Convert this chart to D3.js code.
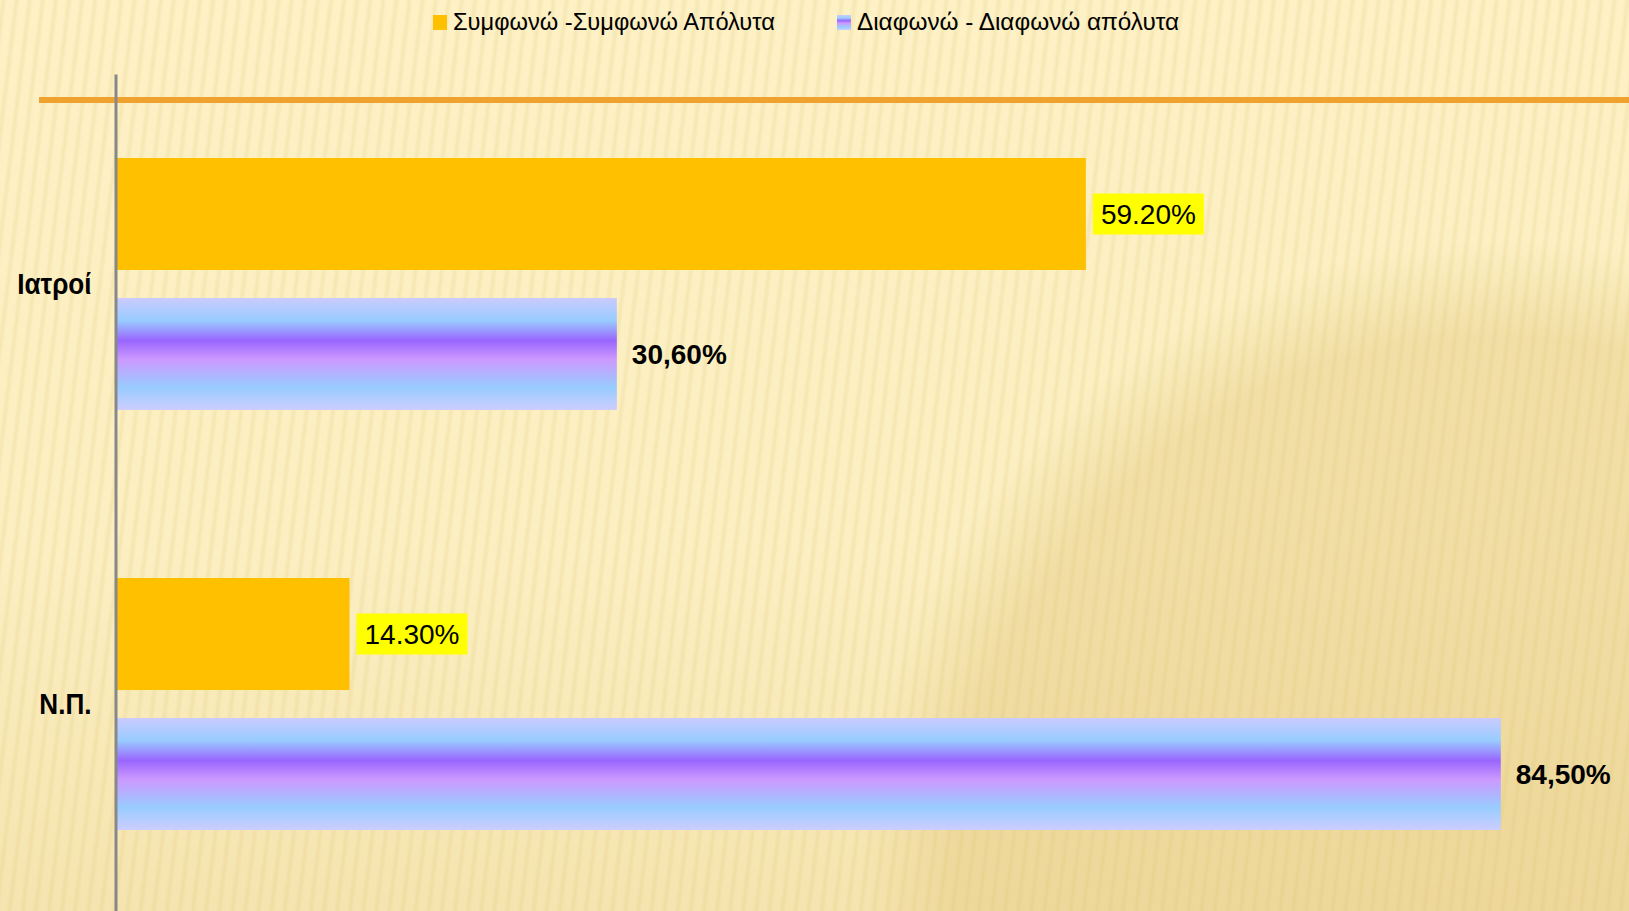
<!DOCTYPE html>
<html lang="el">
    <head>
        <meta charset="utf-8">
        <title>Ιατροί - Ν.Π.</title>
        <script type="text/javascript" src="https://d3js.org/d3.v7.min.js"></script>
        <style type="text/css">
          body{
            margin: 0;
            overflow: hidden;
          }
          svg{
            display: block;
            font-family: "Liberation Sans", Arial, sans-serif;
          }
          .catlabels text{
            font-size: 29px;
            font-weight: 700;
            fill: #000;
          }
          .legend text{
            font-size: 23px;
            fill: #000;
          }
          .values{
            font-size: 28px;
            fill: #000;
          }
        </style>
    </head>
    <body>
      <div id="chart"></div>
        <script type="text/javascript">

            const w = 1629;
            const h = 911;

            // data
            const categories = ["Ιατροί", "Ν.Π."];
            const seriesNames = ["Συμφωνώ -Συμφωνώ Απόλυτα", "Διαφωνώ - Διαφωνώ απόλυτα"];
            const agreeValues = [59.2, 14.3];
            const disagreeValues = [30.6, 84.5];
            const agreeLabels = ["59.20%", "14.30%"];
            const disagreeLabels = ["30,60%", "84,50%"];

            const rows = [];
            categories.forEach((c, i) => {
              rows.push({cat: c, series: seriesNames[0], value: agreeValues[i], label: agreeLabels[i], s: 0});
              rows.push({cat: c, series: seriesNames[1], value: disagreeValues[i], label: disagreeLabels[i], s: 1});
            });

            const svg = d3.select("#chart")
                          .append("svg")
                          .attr("width", w)
                          .attr("height", h);

            const defs = svg.append("defs");

            //purple "tube" gradient of the disagree bars
            const grad = defs.append("linearGradient")
                             .attr("id", "purp")
                             .attr("x1", 0).attr("y1", 0)
                             .attr("x2", 0).attr("y2", 1);
            [[0, "#cbcbff"], [0.2, "#99ccff"], [0.38, "#9966ff"], [0.55, "#cc99ff"], [0.8, "#99ccff"], [1, "#cdcdff"]]
              .forEach(d => grad.append("stop").attr("offset", d[0]).attr("stop-color", d[1]));

            //background: pale paper with thin slanted stripes and a darker disc bottom right
            const stripe = defs.append("pattern")
                               .attr("id", "stripes")
                               .attr("width", 13)
                               .attr("height", 40)
                               .attr("patternUnits", "userSpaceOnUse")
                               .attr("patternTransform", "rotate(7)");
            const sg = defs.append("linearGradient").attr("id", "stripeGrad");
            [[0, "#d9bd6a", 0], [0.5, "#d9bd6a", 0.2], [1, "#d9bd6a", 0]]
              .forEach(d => sg.append("stop").attr("offset", d[0]).attr("stop-color", d[1]).attr("stop-opacity", d[2]));
            stripe.append("rect").attr("width", 7).attr("height", 40).attr("fill", "url(#stripeGrad)");

            const disc = defs.append("radialGradient").attr("id", "disc");
            [[0, 0.42], [0.85, 0.4], [1, 0.0]]
              .forEach(d => disc.append("stop").attr("offset", d[0]).attr("stop-color", "#e2c67c").attr("stop-opacity", d[1]));

            const shade = defs.append("linearGradient")
                              .attr("id", "shade")
                              .attr("x1", 0).attr("y1", 0)
                              .attr("x2", 0).attr("y2", 1);
            [[0, 0], [0.6, 0.05], [1, 0.3]]
              .forEach(d => shade.append("stop").attr("offset", d[0]).attr("stop-color", "#e2c67c").attr("stop-opacity", d[1]));

            const bg = svg.append("g");
            bg.append("rect").attr("width", w).attr("height", h).attr("fill", "#fdf1c5");
            bg.append("rect").attr("width", w).attr("height", h).attr("fill", "url(#shade)");
            bg.append("circle")
              .attr("cx", 1500).attr("cy", 880).attr("r", 640)
              .attr("fill", "url(#disc)");
            bg.append("rect").attr("width", w).attr("height", h).attr("fill", "url(#stripes)");

            //orange rule of the slide
            svg.append("line")
               .attr("x1", 39).attr("x2", w)
               .attr("y1", 100).attr("y2", 100)
               .attr("stroke", "#f0a22e")
               .attr("stroke-width", 6);

            //scales
            const x = d3.scaleLinear()
                        .domain([0, 100])
                        .range([115, 1755]);

            const y = d3.scaleBand()
                        .domain(categories)
                        .range([74, 914])
                        .paddingInner(0.4)
                        .paddingOuter(0.2);

            const ySub = d3.scaleBand()
                           .domain(seriesNames)
                           .range([0, y.bandwidth()])
                           .paddingInner(0.2);

            const fills = ["#ffc000", "url(#purp)"];

            //bars
            svg.selectAll(".bar")
               .data(rows)
               .enter()
               .append("rect")
               .attr("class", "bar")
               .attr("x", x(0))
               .attr("y", d => y(d.cat) + ySub(d.series))
               .attr("width", d => x(d.value) - x(0))
               .attr("height", ySub.bandwidth())
               .attr("fill", d => fills[d.s]);

            //value labels
            const lab = svg.selectAll(".vlab")
                           .data(rows)
                           .enter()
                           .append("g")
                           .attr("class", "vlab")
                           .attr("transform", d => `translate(${x(d.value) + 15},${y(d.cat) + ySub(d.series) + ySub.bandwidth() / 2})`);

            lab.append("text")
               .attr("class", "values")
               .attr("dy", "0.36em")
               .style("font-weight", d => d.s == 1 ? 700 : 400)
               .text(d => d.label);

            lab.filter(d => d.s == 0).each(function(){
              const g = d3.select(this);
              const b = g.select("text").node().getBBox();
              g.insert("rect", "text")
               .attr("x", -8)
               .attr("y", -20.5)
               .attr("width", b.width + 16)
               .attr("height", 41)
               .attr("fill", "#ffff00");
            });

            //category axis
            const yAxis = svg.append("g")
                             .attr("class", "catlabels")
                             .attr("transform", `translate(${x(0) + 0.5},0)`)
                             .call(d3.axisLeft(y).tickSize(0).tickSizeOuter(0).tickPadding(24));
            yAxis.select(".domain")
                 .attr("stroke", "#888")
                 .attr("stroke-width", 3);
            yAxis.selectAll("text")
                 .attr("font-family", null)
                 .attr("font-size", null)
                 .attr("dy", "0.34em")
                 .each(function(){
                   const t = d3.select(this);
                   const len = this.getComputedTextLength();
                   t.attr("textLength", len * 0.9).attr("lengthAdjust", "spacingAndGlyphs");
                 });

            //legend
            const legendX = [433, 837];
            const legend = svg.append("g")
                              .attr("class", "legend")
                              .selectAll("g")
                              .data(seriesNames)
                              .enter()
                              .append("g")
                              .attr("transform", (d, i) => `translate(${legendX[i]},15)`);
            legend.append("rect")
                  .attr("width", 14)
                  .attr("height", 15)
                  .attr("fill", (d, i) => fills[i]);
            legend.append("text")
                  .attr("x", 20)
                  .attr("y", 15)
                  .text(d => d)
                  .each(function(){
                    d3.select(this).attr("textLength", 322).attr("lengthAdjust", "spacingAndGlyphs");
                  });

        </script>
    </body>
</html>
